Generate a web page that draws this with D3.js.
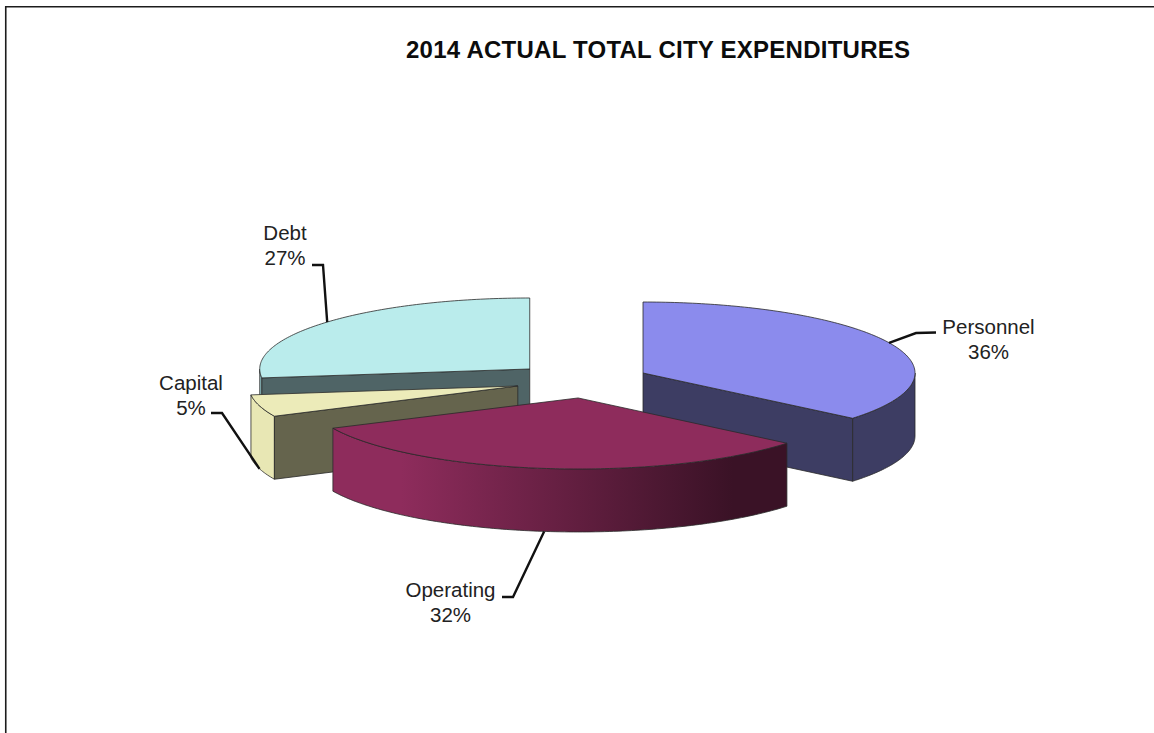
<!DOCTYPE html>
<html>
<head>
<meta charset="utf-8">
<style>
  html, body { margin: 0; padding: 0; background: #fff; }
  svg { display: block; }
  text { font-family: "Liberation Sans", Arial, sans-serif; fill: #222; }
</style>
<script src="https://cdnjs.cloudflare.com/ajax/libs/d3/7.8.5/d3.min.js"></script>
</head>
<body>
<svg id="chart" width="1154" height="733"></svg>
<script>
// Expenditure shares, percent of the 2014 total
const categories = ["Personnel", "Operating", "Capital", "Debt"];
const shares = [36, 32, 5, 27];
const chartTitle = "2014 ACTUAL TOTAL CITY EXPENDITURES";

// Slice pull-out along each slice's middle angle: sideways and in depth
const explodeBy = [63, 63, 71, 75];
const explodeLift = [17.6, 17.6, 19.7, 17.4];
// Horizontal radius of each slice; the far side of the pie narrows a little
const sliceRx = [272, 271, 269, 270];

// Surface colours per slice: top face, cut face, rim left and rim right
const topFill = ["#8b8bed", "#8e2c5c", "#ecebb9", "#baecec"];
const cutFill = ["#3d3d63", "#65644d", "#65644d", "#4f6466"];
const rimStops = [
  ["#3d3d63", "#3d3d63"],
  ["#8e2c5c", "#3a1226"],
  ["#e8e7b4", "#e8e7b4"],
  ["#8fc0c4", "#8fc0c4"]
];

// Pie projection
const cx = 586, cy = 380.5, ry = 71, depth = 63;

const svg = d3.select("#chart");
const defs = svg.append("defs");

// Frame around the chart area; it runs off the window on the right and bottom
svg.append("path")
  .attr("d", d3.line()([[5.75, 733], [5.75, 6.75], [1154, 6.75]]))
  .attr("fill", "none").attr("stroke", "#1c1c1c").attr("stroke-width", 1.6);

svg.append("text")
  .attr("x", 658).attr("y", 58).attr("text-anchor", "middle")
  .attr("font-size", 24).attr("font-weight", "bold").style("fill", "#0c0c0c")
  .attr("textLength", 504).attr("lengthAdjust", "spacing")
  .text(chartTitle);

const slices = d3.pie().sort(null).value(d => d)(shares)
  .map((s, i) => {
    const mid = (s.startAngle + s.endAngle) / 2;
    return {
      ...s, i, mid,
      rx: sliceRx[i],
      ox: cx + explodeBy[i] * Math.sin(mid),
      oy: cy - explodeLift[i] * Math.cos(mid)
    };
  });

const onRim = (s, a, dy = 0) => [s.ox + s.rx * Math.sin(a), s.oy - ry * Math.cos(a) + dy];

// Sampled elliptical arc between two pie angles
function arcPoints(s, a0, a1, dy = 0) {
  const n = Math.max(2, Math.ceil(Math.abs(a1 - a0) * 60));
  return d3.range(n + 1).map(k => onRim(s, a0 + (a1 - a0) * k / n, dy));
}

const closed = d3.line().curve(d3.curveLinearClosed);
const edge = "#2a2a2a";

function drawCut(g, s, a) {
  const p = onRim(s, a);
  g.append("path")
    .attr("d", closed([[s.ox, s.oy], p, [p[0], p[1] + depth], [s.ox, s.oy + depth]]))
    .attr("fill", cutFill[s.i]).attr("stroke", edge).attr("stroke-width", 0.8);
}

function drawRim(g, s) {
  // Only the part of the rim on the near side of the pie shows
  const a0 = Math.max(s.startAngle, Math.PI / 2);
  const a1 = Math.min(s.endAngle, Math.PI * 1.5);
  if (a1 <= a0) return;
  const front = arcPoints(s, a0, a1);
  const back = arcPoints(s, a1, a0, depth);
  const id = "rim" + s.i;
  const grad = defs.append("linearGradient").attr("id", id)
    .attr("gradientUnits", "userSpaceOnUse")
    .attr("x1", d3.max(front, d => d[0])).attr("x2", d3.min(front, d => d[0]))
    .attr("y1", 0).attr("y2", 0);
  grad.append("stop").attr("offset", "0").attr("stop-color", rimStops[s.i][1]);
  grad.append("stop").attr("offset", "0.12").attr("stop-color", rimStops[s.i][1]);
  grad.append("stop").attr("offset", "0.85").attr("stop-color", rimStops[s.i][0]);
  grad.append("stop").attr("offset", "1").attr("stop-color", rimStops[s.i][0]);
  g.append("path").attr("d", closed(front.concat(back)))
    .attr("fill", `url(#${id})`).attr("stroke", edge).attr("stroke-width", 0.8);
}

function drawTop(g, s) {
  const pts = [[s.ox, s.oy]].concat(arcPoints(s, s.startAngle, s.endAngle));
  g.append("path").attr("d", closed(pts))
    .attr("fill", topFill[s.i]).attr("stroke", edge).attr("stroke-width", 0.8);
}

// Back-to-front: Debt, Capital, Personnel, Operating
const pieLayer = svg.append("g");
const bySlice = name => slices[categories.indexOf(name)];

const debt = bySlice("Debt");
const debtG = pieLayer.append("g");
drawRim(debtG, debt); drawCut(debtG, debt, debt.startAngle); drawTop(debtG, debt);

const capital = bySlice("Capital");
const capG = pieLayer.append("g");
drawRim(capG, capital); drawCut(capG, capital, capital.startAngle); drawTop(capG, capital);

const personnel = bySlice("Personnel");
const perG = pieLayer.append("g");
drawRim(perG, personnel); drawCut(perG, personnel, personnel.endAngle); drawTop(perG, personnel);

const operating = bySlice("Operating");
const opG = pieLayer.append("g");
drawRim(opG, operating); drawTop(opG, operating);

// Data labels; each leader leaves the rim at the slice's middle angle
const labelLayout = [
  { name: "Personnel", x: 988.5, y: 334, dy: 0,     elbow: [[916, 333], [936, 332.5]] },
  { name: "Operating", x: 450.5, y: 597, dy: depth, elbow: [[513, 597], [502, 597]] },
  { name: "Capital",   x: 191,   y: 390, dy: depth, elbow: [[222, 413], [211, 413]] },
  { name: "Debt",      x: 285,   y: 240, dy: 0,     elbow: [[323, 265], [312, 265]] }
];

labelLayout.forEach(l => {
  const i = categories.indexOf(l.name);
  const start = onRim(slices[i], slices[i].mid, l.dy);
  svg.append("path")
    .attr("d", d3.line()([start, ...l.elbow]))
    .attr("fill", "none").attr("stroke", "#111").attr("stroke-width", 2.4);
  const t = svg.append("text").attr("text-anchor", "middle").attr("font-size", 20.5);
  t.append("tspan").attr("x", l.x).attr("y", l.y).text(l.name);
  t.append("tspan").attr("x", l.x).attr("y", l.y + 25).text(shares[i] + "%");
});
</script>
</body>
</html>
